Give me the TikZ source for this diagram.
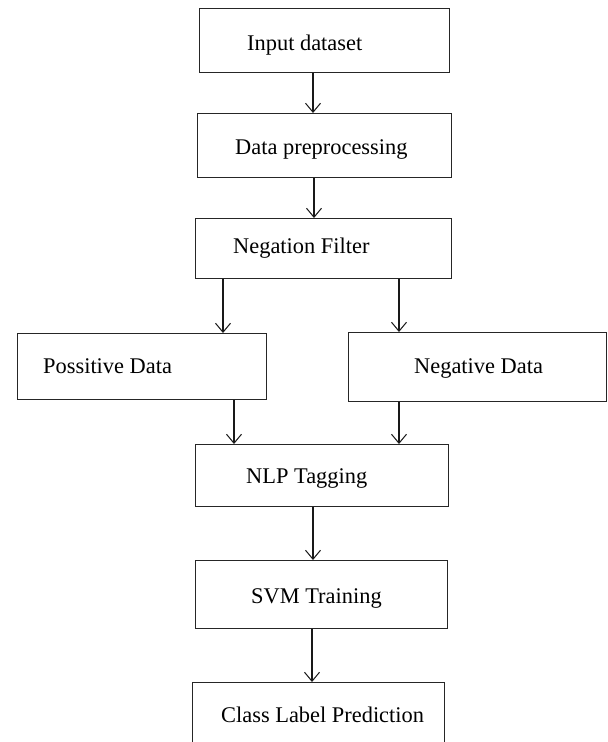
\documentclass[tikz,border=0pt]{standalone}
\usepackage{fontspec}
\setmainfont{Liberation Serif}
\usetikzlibrary{arrows.meta}
\begin{document}
\begin{tikzpicture}[x=1pt,y=-1pt,
  box/.style={draw=black!85, line width=1.3pt, rectangle, inner sep=0pt, anchor=north west},
  txt/.style={anchor=base west, inner sep=0pt, font=\fontsize{22.4}{27}\selectfont},
  arr/.style={draw=black!90, line width=1.2pt, -{Straight Barb[length=9pt,width=15pt,line width=1pt]}}]
\useasboundingbox (0,0) rectangle (608,742);
\clip (0,0) rectangle (608,742);
\fill[white] (0,0) rectangle (608,742);
% boxes
\node[box, minimum width=250pt, minimum height=64pt] (b1) at (199,8) {};
\node[box, minimum width=254pt, minimum height=64pt] (b2) at (197,113) {};
\node[box, minimum width=256pt, minimum height=60pt] (b3) at (195,218) {};
\node[box, minimum width=249pt, minimum height=66pt] (b4) at (17,333) {};
\node[box, minimum width=258pt, minimum height=69pt] (b5) at (348,332) {};
\node[box, minimum width=253pt, minimum height=62pt] (b6) at (195,444) {};
\node[box, minimum width=252pt, minimum height=68pt] (b7) at (195,560) {};
\node[box, minimum width=252pt, minimum height=80pt] (b8) at (192,682) {};
% texts
\node[txt] (t1) at (247,50) {Input dataset};
\node[txt] (t2) at (235,154) {Data preprocessing};
\node[txt] (t3) at (233,253) {Negation Filter};
\node[txt] (t4) at (43,373) {Possitive Data};
\node[txt] (t5) at (414,373) {Negative Data};
\node[txt] (t6) at (246,483) {NLP Tagging};
\node[txt] (t7) at (251,603) {SVM Training};
\node[txt] (t8) at (221,722) {Class Label Prediction};
% arrow columns
\coordinate (c1) at (313,0);
\coordinate (c2) at (314,0);
\coordinate (c3) at (223,0);
\coordinate (c4) at (399,0);
\coordinate (c5) at (234,0);
\coordinate (c7) at (313,0);
\coordinate (c8) at (312,0);
% arrows
\draw[arr] (b1.south -| c1) -- (b2.north -| c1);
\draw[arr] (b2.south -| c2) -- (b3.north -| c2);
\draw[arr] (b3.south -| c3) -- (b4.north -| c3);
\draw[arr] (b3.south -| c4) -- (b5.north -| c4);
\draw[arr] (b4.south -| c5) -- (b6.north -| c5);
\draw[arr] (b5.south -| c4) -- (b6.north -| c4);
\draw[arr] (b6.south -| c7) -- (b7.north -| c7);
\draw[arr] (b7.south -| c8) -- (b8.north -| c8);
\end{tikzpicture}
\end{document}
